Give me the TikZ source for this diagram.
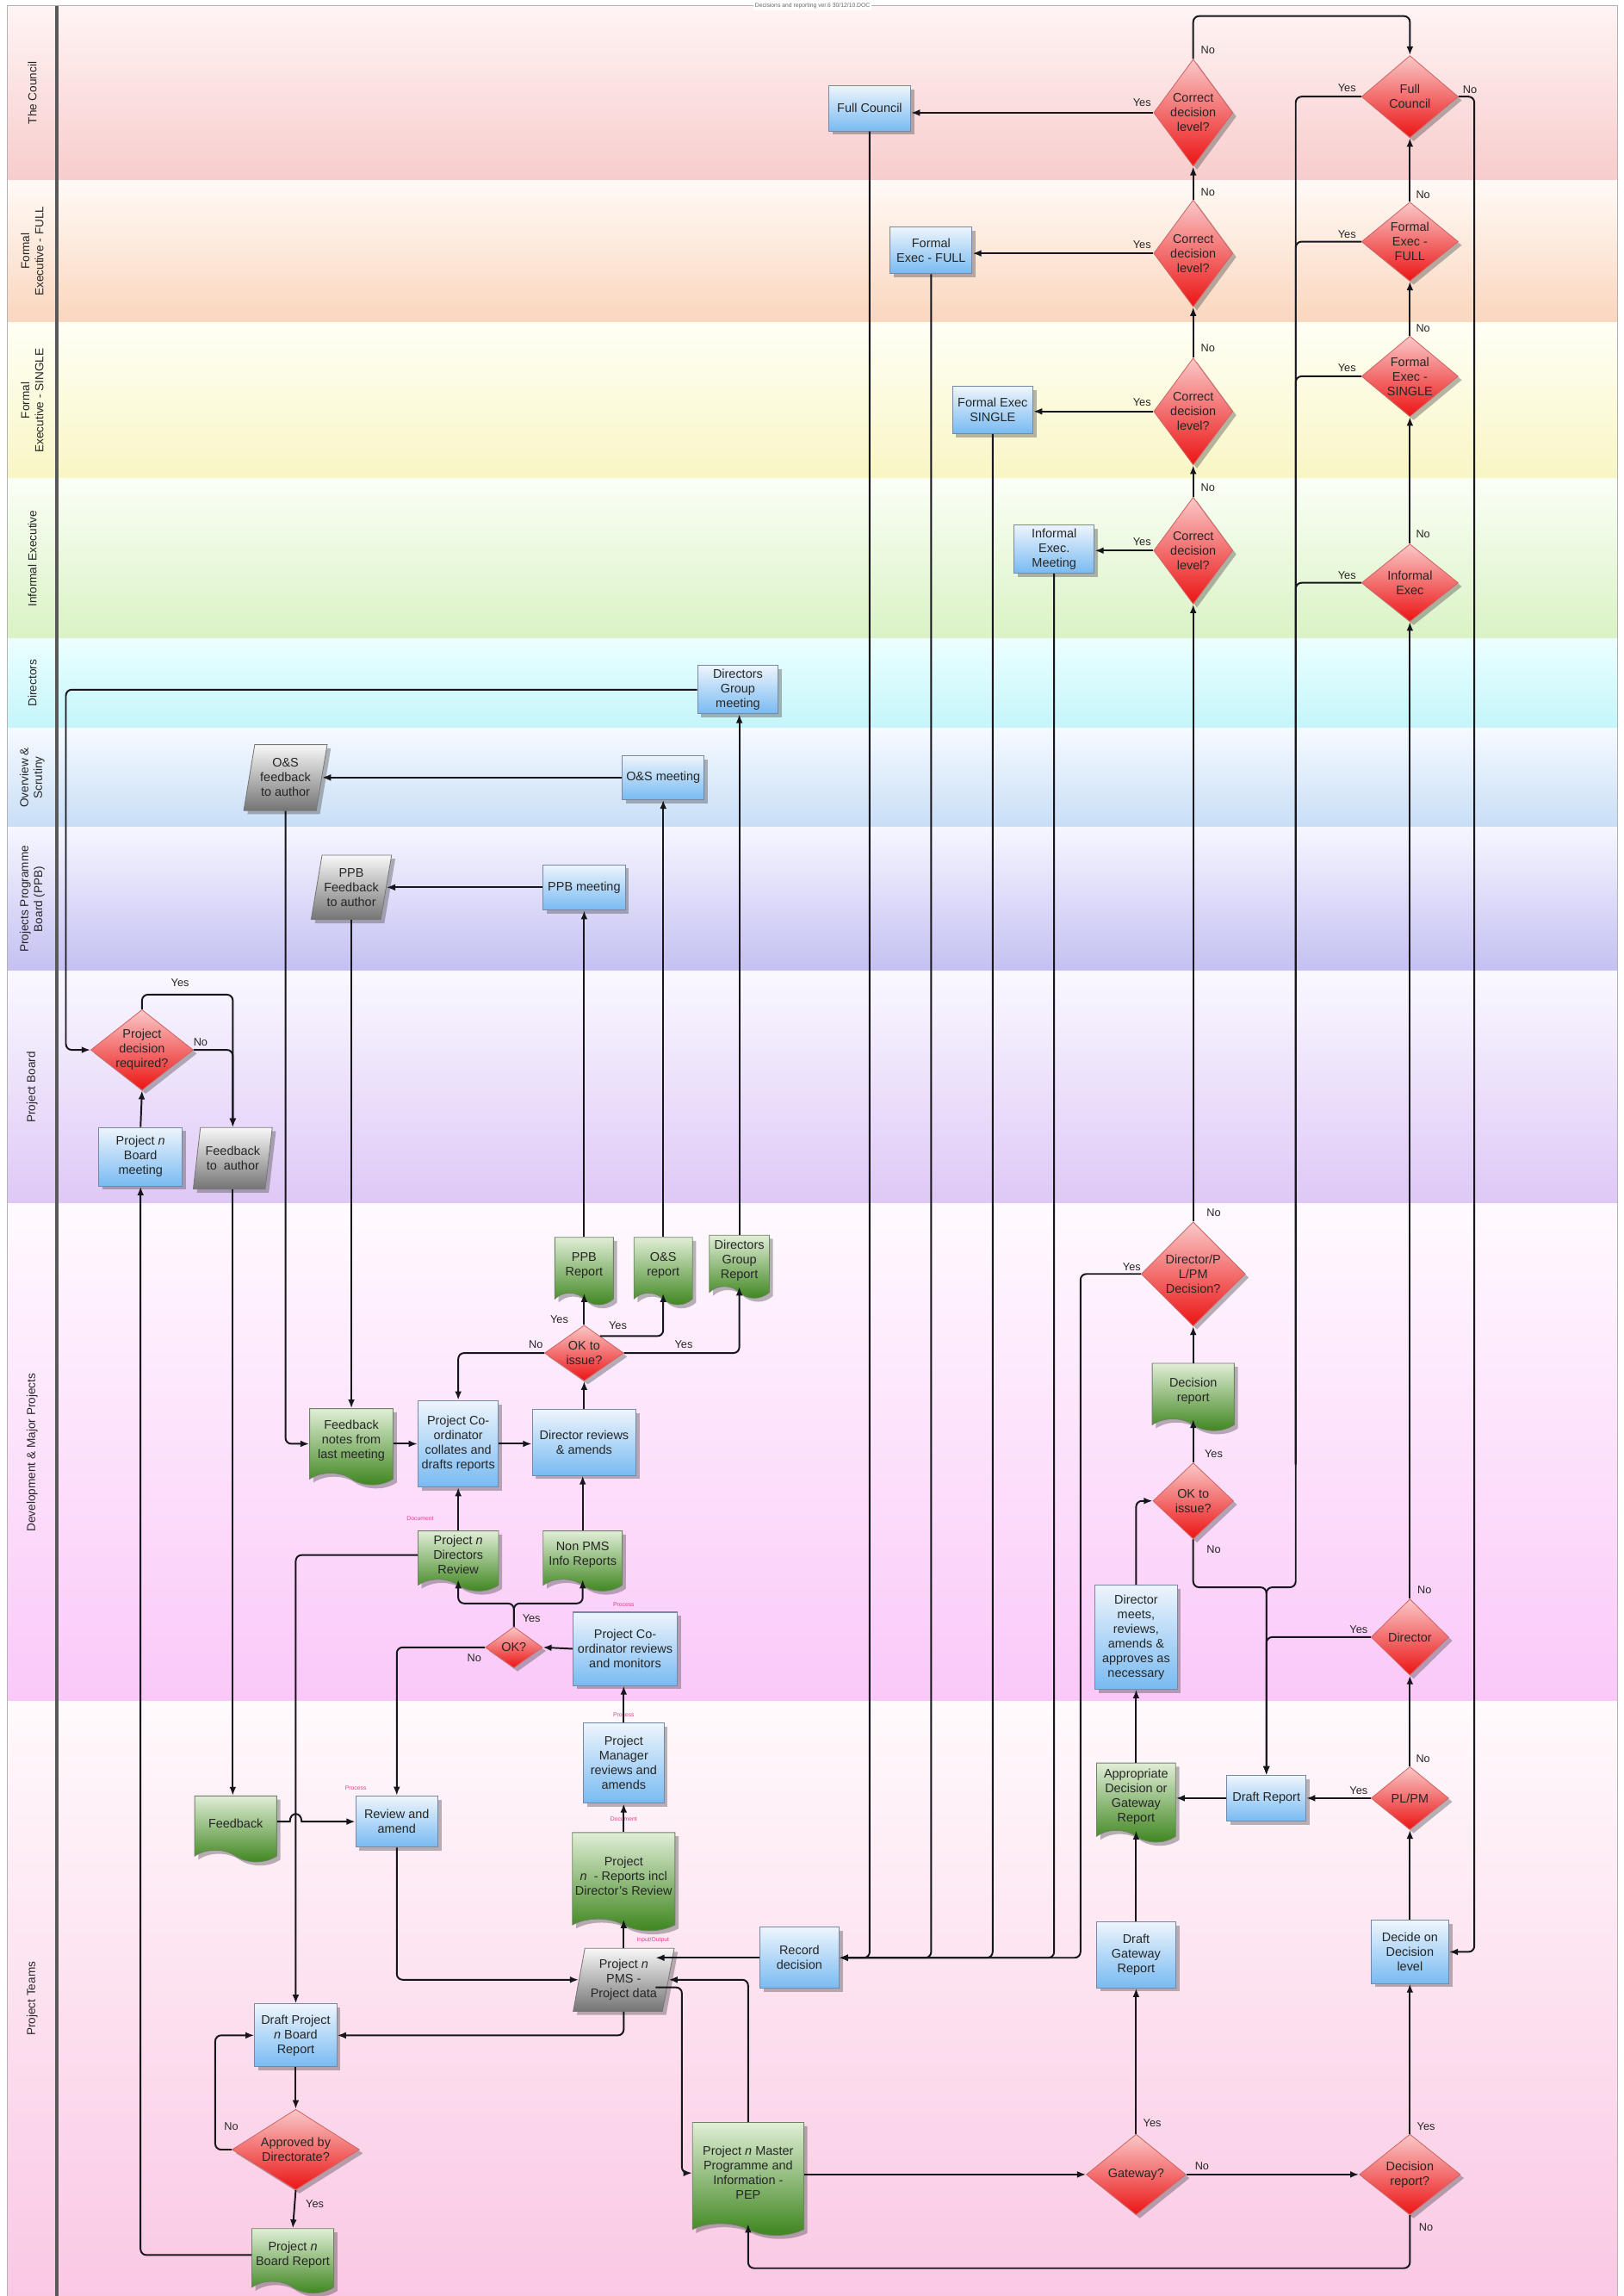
\documentclass[tikz,border=0pt]{standalone}
\usepackage{fontspec}
\setmainfont{Liberation Sans}
\usetikzlibrary{shapes.geometric,shapes.symbols,arrows.meta,shadows,calc}

% shape fills
\definecolor{procTop}{RGB}{238,245,252}
\definecolor{procBot}{RGB}{120,186,242}
\definecolor{procLine}{RGB}{118,136,168}
\definecolor{docTop}{RGB}{224,238,214}
\definecolor{docBot}{RGB}{60,132,28}
\definecolor{docLine}{RGB}{110,130,100}
\definecolor{decTop}{RGB}{250,200,200}
\definecolor{decBot}{RGB}{236,20,20}
\definecolor{decLine}{RGB}{210,100,100}
\definecolor{ioTop}{RGB}{248,248,248}
\definecolor{ioBot}{RGB}{116,116,116}
\definecolor{ioLine}{RGB}{120,120,120}
\definecolor{tagPink}{RGB}{232,60,140}
\definecolor{wire}{RGB}{22,22,28}
% swim lane tints (top / bottom)
\definecolor{laneAt}{RGB}{255,244,244}\definecolor{laneAb}{RGB}{248,204,204}
\definecolor{laneBt}{RGB}{255,250,246}\definecolor{laneBb}{RGB}{250,214,190}
\definecolor{laneCt}{RGB}{255,255,246}\definecolor{laneCb}{RGB}{248,246,196}
\definecolor{laneDt}{RGB}{250,255,246}\definecolor{laneDb}{RGB}{218,242,196}
\definecolor{laneEt}{RGB}{236,255,255}\definecolor{laneEb}{RGB}{196,245,250}
\definecolor{laneFt}{RGB}{246,250,255}\definecolor{laneFb}{RGB}{200,222,246}
\definecolor{laneGt}{RGB}{246,246,255}\definecolor{laneGb}{RGB}{196,192,242}
\definecolor{laneHt}{RGB}{250,248,255}\definecolor{laneHb}{RGB}{222,200,246}
\definecolor{laneIt}{RGB}{255,250,255}\definecolor{laneIb}{RGB}{250,200,248}
\definecolor{laneJt}{RGB}{255,250,252}\definecolor{laneJb}{RGB}{250,200,228}

% one swim lane: name, top, bottom, top colour, bottom colour, label
\newcommand{\swimlane}[6]{%
  \shade[top color=#4, bottom color=#5] (5,#2) rectangle (1105,#3);
  \draw[lanesep] (5,#3) -- (1105,#3);
  \path (22,#2) -- node[lanelabel] (#1) {#6} (22,#3);
}

\begin{document}
\begin{tikzpicture}[x=1pt, y=-1pt,
  every node/.style={font=\fontsize{8.5}{10}\selectfont, text=black!85},
  nodebase/.style={align=center, inner sep=1pt,
    drop shadow={shadow xshift=2.5pt, shadow yshift=-2.5pt, fill=black!70, opacity=0.4}},
  proc/.style 2 args={nodebase, rectangle, draw=procLine, line width=0.6pt,
    top color=procTop, bottom color=procBot, minimum width=#1, minimum height=#2},
  doc/.style 2 args={nodebase, tape, tape bend top=none, tape bend bottom=out and in,
    tape bend height=8pt, draw=docLine, line width=0.5pt,
    top color=docTop, bottom color=docBot, minimum width=#1, minimum height=#2},
  dec/.style 2 args={nodebase, diamond, inner sep=0pt, draw=decLine, line width=0.5pt,
    top color=decTop, bottom color=decBot, minimum width=#1, minimum height=#2},
  io/.style 2 args={nodebase, trapezium, trapezium left angle=75, trapezium right angle=105,
    trapezium stretches body, draw=ioLine, line width=0.5pt,
    top color=ioTop, bottom color=ioBot, minimum width=#1, minimum height=#2},
  dtext/.style={label={[align=center, inner sep=0pt]center:#1}},
  lanelabel/.style={rotate=90, align=center, font=\fontsize{8}{9.5}\selectfont},
  lanesep/.style={draw=black!22, line width=0.6pt},
  yn/.style={font=\fontsize{7.5}{8}\selectfont, inner sep=0.5pt},
  tag/.style={font=\fontsize{4}{4}\selectfont, text=tagPink, inner sep=0pt},
  wireline/.style={draw=wire, line width=1.15pt, rounded corners=4pt},
  arr/.style={wireline, -{Latex[length=6pt,width=4.6pt]}},
]
\useasboundingbox (0,0) rectangle (1109,1568);
\fill[white] (0,0) rectangle (1109,1568);

% ---------- swim lanes ----------
\swimlane{laneCouncil}{4}{123}{laneAt}{laneAb}{The Council}
\swimlane{laneFull}{123}{220}{laneBt}{laneBb}{Formal\\Executive - FULL}
\swimlane{laneSingle}{220}{327}{laneCt}{laneCb}{Formal\\Executive - SINGLE}
\swimlane{laneInformal}{327}{436}{laneDt}{laneDb}{Informal Executive}
\swimlane{laneDirectors}{436}{497}{laneEt}{laneEb}{Directors}
\swimlane{laneOS}{497}{565}{laneFt}{laneFb}{Overview \&\\Scrutiny}
\swimlane{lanePPB}{565}{663}{laneGt}{laneGb}{Projects Programme\\Board (PPB)}
\swimlane{laneBoard}{663}{822}{laneHt}{laneHb}{Project Board}
\swimlane{laneDev}{822}{1162}{laneIt}{laneIb}{Development \& Major Projects}
\swimlane{laneTeams}{1162}{1568}{laneJt}{laneJb}{Project Teams}
\draw[black!30, line width=0.6pt] (5,4) rectangle (1105,1568);
\draw[black!65, line width=2.2pt] (39,4) -- (39,1568);
\node[font=\fontsize{4}{4}\selectfont, fill=white, inner sep=1pt, text=black!60] (title) at (555,4)
  {Decisions and reporting ver.6 30/12/10.DOC};

% ---------- council and executive ----------
\node[proc={56}{31}] (fullcouncil) at (594,74) {Full Council};
\node[proc={56}{32}] (fexfull) at (636,171) {Formal\\Exec - FULL};
\node[proc={55}{32}] (fexsingle) at (678,280) {Formal Exec\\SINGLE};
\node[proc={55}{33}] (infmeet) at (720,375) {Informal\\Exec.\\Meeting};
\node[dec={54}{73}, dtext={Correct\\decision\\level?}] (dc1) at (815,77) {};
\node[dec={54}{73}, dtext={Correct\\decision\\level?}] (dc2) at (815,173) {};
\node[dec={54}{73}, dtext={Correct\\decision\\level?}] (dc3) at (815,281) {};
\node[dec={54}{73}, dtext={Correct\\decision\\level?}] (dc4) at (815,376) {};
\node[dec={66}{56}, dtext={Full\\Council}] (rfc) at (963,66) {};
\node[dec={66}{54}, dtext={Formal\\Exec -\\FULL}] (rff) at (963,165) {};
\node[dec={66}{55}, dtext={Formal\\Exec -\\SINGLE}] (rfs) at (963,257) {};
\node[dec={66}{53}, dtext={Informal\\Exec}] (rif) at (963,398) {};

% ---------- directors, O&S, PPB, project board ----------
\node[proc={55}{33}] (dgm) at (504,471) {Directors\\Group\\meeting};
\node[io={57}{45}] (osf) at (195,531) {O\&S\\feedback\\to author};
\node[proc={56}{30}] (osm) at (453,531) {O\&S meeting};
\node[io={55}{44}] (ppf) at (240,606) {PPB\\Feedback\\to author};
\node[proc={56}{31}] (ppbm) at (399,606) {PPB meeting};
\node[dec={70}{55}, dtext={Project\\decision\\required?}] (pdq) at (97,717) {};
\node[proc={57}{40}] (pbm) at (96,790) {Project \textit{n}\\Board\\meeting};
\node[io={54}{42}] (fta) at (159,791) {Feedback\\to\ \ author};

% ---------- development & major projects ----------
\node[doc={40}{46}] (ppbr) at (399,864) {PPB\\Report};
\node[doc={40}{46}] (osr) at (453,864) {O\&S\\report};
\node[doc={41}{43}] (dgr) at (505,861) {Directors\\Group\\Report};
\node[dec={54}{38}, dtext={OK to\\issue?}] (okL) at (399,924) {};
\node[doc={57}{52}] (fbn) at (240,984) {Feedback\\notes from\\last meeting};
\node[proc={55}{59}] (pcc) at (313,986) {Project Co-\\ordinator\\collates and\\drafts reports};
\node[proc={71}{45}] (dra) at (399,985) {Director reviews\\\& amends};
\node[doc={55}{41}] (pdr) at (313,1062) {Project \textit{n}\\Directors\\Review};
\node[doc={54}{41}] (npms) at (398,1062) {Non PMS\\Info Reports};
\node[dec={39}{28}, dtext={OK?}] (okq) at (351,1125) {};
\node[proc={71}{50}] (pcr) at (427,1126) {Project Co-\\ordinator reviews\\and monitors};
\node[dec={71}{71}, dtext={Director/P\\L/PM\\Decision?}] (dpl) at (815,870) {};
\node[doc={56}{46}] (decrep) at (815,950) {Decision\\report};
\node[dec={55}{52}, dtext={OK to\\issue?}] (ok2) at (815,1025) {};
\node[proc={56}{71}] (dmeet) at (776,1118) {Director\\meets,\\reviews,\\amends \&\\approves as\\necessary};
\node[dec={53}{52}, dtext={Director}] (dir) at (963,1118) {};

% ---------- project teams ----------
\node[doc={56}{45}] (fbk) at (161,1245) {Feedback};
\node[proc={56}{35}] (rev) at (271,1244) {Review and\\amend};
\node[proc={55}{55}] (pmr) at (426,1204) {Project\\Manager\\reviews and\\amends};
\node[doc={70}{67}] (rpt) at (426,1281) {Project\\\textit{n}\ \ - Reports incl\\Director's Review};
\node[io={69}{43}] (pms) at (426,1352) {Project \textit{n}\\PMS -\\Project data};
\node[proc={54}{42}] (rec) at (546,1337) {Record\\decision};
\node[doc={54}{54}] (appr) at (776,1227) {Appropriate\\Decision or\\Gateway\\Report};
\node[proc={54}{31}] (drft) at (865,1228) {Draft Report};
\node[dec={53}{43}, dtext={PL/PM}] (plpm) at (963,1228) {};
\node[proc={54}{45}] (dgw) at (776,1335) {Draft\\Gateway\\Report};
\node[proc={53}{43}] (dec) at (963,1333) {Decide on\\Decision\\level};
\node[proc={56}{43}] (dpb) at (202,1390) {Draft Project\\\textit{n} Board\\Report};
\node[dec={87}{55}, dtext={Approved by\\Directorate?}] (apd) at (202,1468) {};
\node[doc={56}{44}] (pbr) at (200,1540) {Project \textit{n}\\Board Report};
\node[doc={76}{77}] (pep) at (511,1484) {Project \textit{n} Master\\Programme and\\Information -\\PEP};
\node[dec={68}{55}, dtext={Gateway?}] (gw) at (776,1485) {};
\node[dec={69}{55}, dtext={Decision\\report?}] (dr) at (963,1485) {};

% ---------- shape-type tags ----------
\node[tag] (tagA) at (287,1037) {Document};
\node[tag] (tagB) at (426,1096) {Process};
\node[tag] (tagC) at (426,1171) {Process};
\node[tag] (tagD) at (426,1242) {Document};
\node[tag] (tagE) at (446,1325) {Input/Output};
\node[tag] (tagF) at (243,1221) {Process};

% ---------- connectors: council and executive ----------
\draw[arr] (dc1.west) -- (dc1.west -| fullcouncil.east);
\draw[arr] (dc2.west) -- (dc2.west -| fexfull.east);
\draw[arr] (dc3.west) -- (dc3.west -| fexsingle.east);
\draw[arr] (dc4.west) -- (dc4.west -| infmeet.east);
\draw[arr] (dpl.north) -- (dc4.south);
\draw[arr] (dc4.north) -- (dc3.south);
\draw[arr] (dc3.north) -- (dc2.south);
\draw[arr] (dc2.north) -- (dc1.south);
\coordinate (topturn) at (963,11);
\draw[arr] (dc1.north) |- (topturn) -- (rfc.north);
\draw[arr] (rif.north) -- (rfs.south);
\draw[arr] (rfs.north) -- (rff.south);
\draw[arr] (rff.north) -- (rfc.south);
\draw[arr] (dir.north) -- (rif.south);
\draw[arr] (plpm.north) -- (dir.south);
\draw[arr] (dec.north) -- (plpm.south);
\draw[arr] (dr.north) -- (dec.south);
\coordinate (nbus) at (1007,1333);
\draw[arr] (rfc.east) -| (nbus) -- (dec.east);
\coordinate (ybus) at (885,1084);
\coordinate (ybusmid) at (885,1000);
\draw[arr] (rfc.west) -| (ybus) -| (drft.north);
\draw[wireline] (rff.west) -| (ybusmid);
\draw[wireline] (rfs.west) -| (ybusmid);
\draw[wireline] (rif.west) -| (ybusmid);
\draw[arr] (ok2.south) |- (drft.north |- ybus) -- (drft.north);
\draw[arr] (dir.west) -| (drft.north);
\draw[arr] (plpm.west) -- (drft.east);
\draw[arr] (drft.west) -- (drft.west -| appr.east);
\draw[arr] (appr.north) -- (dmeet.south);
\draw[arr] (dmeet.north) |- (ok2.west);
\draw[arr] (ok2.north) -- (decrep.south);
\draw[arr] (decrep.north) -- (dpl.south);
\coordinate (recbus) at (738,1337);
\draw[arr] (dpl.west) -| (recbus) -- (rec.east);
\foreach \n in {fullcouncil,fexfull,fexsingle,infmeet} \draw[arr] (\n.south) |- (rec.east);

% ---------- connectors: gateway loop ----------
\draw[arr] (gw.north) -- (dgw.south);
\draw[arr] (dgw.north) -- (appr.south);
\draw[arr] (gw.east) -- (dr.west);
\coordinate (botbus) at (511,1549);
\draw[arr] (dr.south) |- (botbus) -- (pep.south);
\draw[arr] (pep.east |- gw.west) -- (gw.west);

% ---------- connectors: project data hub ----------
\coordinate (pmsin) at ($(pms.north east)!0.19!(pms.south east)$);
\coordinate (pmsout) at ($(pms.north east)!0.62!(pms.south east)$);
\draw[arr] (rec.west) -- (rec.west -| pmsin);
\draw[arr] (pep.north) |- (pms.east);
\draw[arr] (pmsout) -| ($(pep.west)+(-7,0)$) -- (pep.west);
\draw[arr] (pms.center |- pms.north) -- (pms.center |- rpt.south);
\draw[arr] (rpt.north) -- (rpt.north |- pmr.south);
\draw[arr] (pmr.north) -- (pmr.north |- pcr.south);
\draw[arr] (pcr.west) -- (okq.east);
\coordinate (okbus) at (351,1095);
\draw[arr] (okq.north) -- (okbus) -| (pdr.south);
\draw[arr] (okq.north) -- (okbus) -| (npms.south);
\draw[arr] (okq.west) -| (rev.north);
\draw[arr] (rev.south) |- (pms.west);
\draw[arr] (pms.center |- pms.south) |- (dpb.east);
\draw[arr] (pdr.west) -| (dpb.north);
\coordinate (jmp) at (dpb.north |- rev.west);
\draw[arr, sharp corners] (fbk.east |- rev.west) -- ([xshift=-4pt]jmp)
  .. controls +(0,-7) and +(0,-7) .. ([xshift=4pt]jmp) -- (rev.west);
\draw[arr] (fta.center |- fta.south) -- (fta.center |- fbk.north);
\draw[arr] (dpb.south) -- (apd.north);
\draw[arr] (apd.south) -- (pbr.north);
\coordinate (noloop) at (147,1390);
\draw[arr] (apd.west) -| (noloop) -- (dpb.west);
\draw[arr] (pbr.west) -| (pbm.south);
\draw[arr] (pbm.north) -- (pdq.south);
\draw[arr] (pdq.north) -- ++(0,-10) -| (fta.north);
\draw[arr] (pdq.east) -| (fta.north);
\coordinate (dirbus) at (45,717);
\draw[arr] (dgm.west) -| (dirbus) -- (pdq.west);

% ---------- connectors: reporting cycle ----------
\draw[arr] (dra.north) -- (okL.south);
\draw[arr] (okL.north) -- (ppbr.south);
\coordinate (okLne) at ($(okL.north)!0.4!(okL.east)$);
\draw[arr] (okLne) -| (osr.south);
\draw[arr] (okL.east) -| (dgr.south);
\draw[arr] (okL.west) -| (pcc.north);
\draw[arr] (pcc.west -| fbn.east) -- (pcc.west);
\draw[arr] (pcc.east) -- (pcc.east -| dra.west);
\draw[arr] (pdr.north) -- (pcc.south);
\draw[arr] (npms.north) -- (npms.north |- dra.south);
\draw[arr] (osf.center |- osf.south) |- (pcc.west -| fbn.west);
\draw[arr] (ppf.center |- ppf.south) -- (ppf.center |- fbn.north);
\draw[arr] (ppbr.north) -- (ppbm.south);
\draw[arr] (osr.north) -- (osm.south);
\draw[arr] (dgr.north) -- (dgr.north |- dgm.south);
\draw[arr] (ppbm.west) -- (ppbm.west -| ppf.east);
\draw[arr] (osm.west) -- (osm.west -| osf.east);

% ---------- Yes / No labels ----------
\node[yn] (y1) at (780,70) {Yes};
\node[yn] (y2) at (780,167) {Yes};
\node[yn] (y3) at (780,275) {Yes};
\node[yn] (y4) at (780,370) {Yes};
\node[yn] (n1) at (825,34) {No};
\node[yn] (n2) at (825,131) {No};
\node[yn] (n3) at (825,238) {No};
\node[yn] (n4) at (825,333) {No};
\node[yn] (y5) at (920,60) {Yes};
\node[yn] (y6) at (920,160) {Yes};
\node[yn] (y7) at (920,251) {Yes};
\node[yn] (y8) at (920,393) {Yes};
\node[yn] (n5) at (1004,61) {No};
\node[yn] (n6) at (972,133) {No};
\node[yn] (n7) at (972,224) {No};
\node[yn] (n8) at (972,365) {No};
\node[yn] (y9) at (382,901) {Yes};
\node[yn] (y10) at (422,905) {Yes};
\node[yn] (y11) at (467,918) {Yes};
\node[yn] (n9) at (366,918) {No};
\node[yn] (y12) at (363,1105) {Yes};
\node[yn] (n10) at (324,1132) {No};
\node[yn] (y13) at (123,671) {Yes};
\node[yn] (n11) at (137,712) {No};
\node[yn] (n12) at (158,1452) {No};
\node[yn] (y14) at (215,1505) {Yes};
\node[yn] (n13) at (829,828) {No};
\node[yn] (y15) at (773,865) {Yes};
\node[yn] (y16) at (829,993) {Yes};
\node[yn] (n14) at (829,1058) {No};
\node[yn] (n15) at (973,1086) {No};
\node[yn] (y17) at (928,1113) {Yes};
\node[yn] (n16) at (972,1201) {No};
\node[yn] (y18) at (928,1223) {Yes};
\node[yn] (y19) at (787,1450) {Yes};
\node[yn] (n17) at (821,1479) {No};
\node[yn] (y20) at (974,1452) {Yes};
\node[yn] (n18) at (974,1521) {No};
\end{tikzpicture}
\end{document}
